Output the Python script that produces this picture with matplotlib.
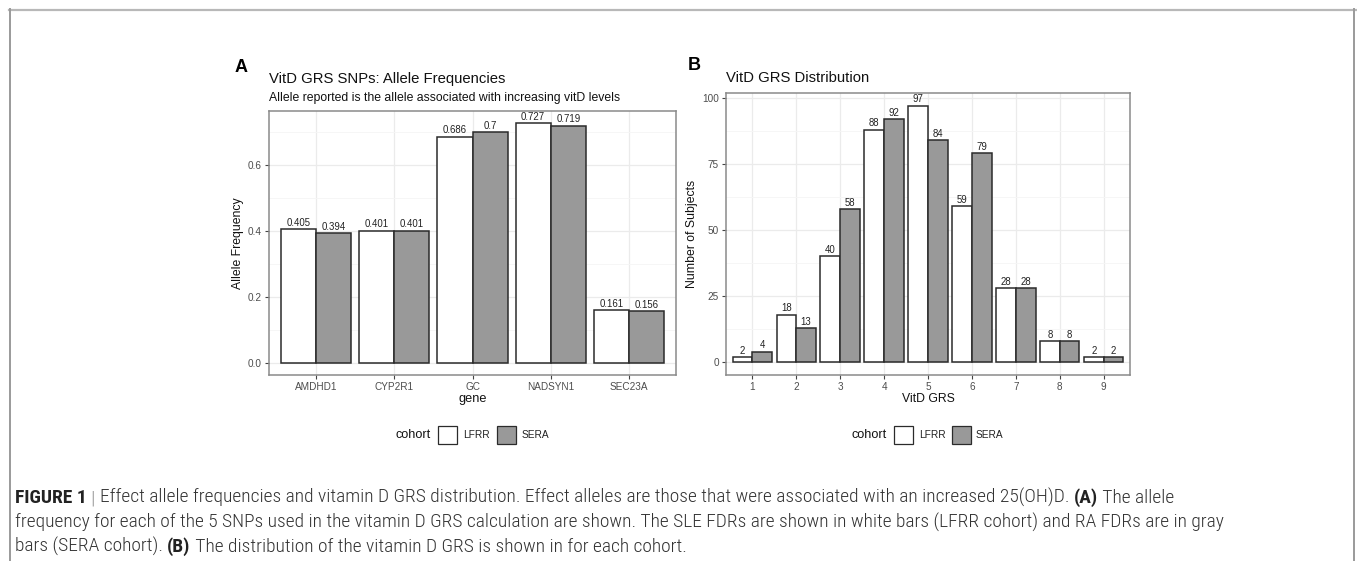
import matplotlib
matplotlib.use("Agg")
import matplotlib.pyplot as plt
import numpy as np
from matplotlib.patches import Rectangle
from matplotlib.lines import Line2D
from matplotlib import font_manager

plt.rcParams['font.family'] = ['Liberation Sans', 'DejaVu Sans']

# ---------------- data ----------------
genes = ["AMDHD1", "CYP2R1", "GC", "NADSYN1", "SEC23A"]
lfrr_freq = [0.405, 0.401, 0.686, 0.727, 0.161]
sera_freq = [0.394, 0.401, 0.7, 0.719, 0.156]
freq_labels_lfrr = ["0.405", "0.401", "0.686", "0.727", "0.161"]
freq_labels_sera = ["0.394", "0.401", "0.7", "0.719", "0.156"]

grs = [1, 2, 3, 4, 5, 6, 7, 8, 9]
lfrr_count = [2, 18, 40, 88, 97, 59, 28, 8, 2]
sera_count = [4, 13, 58, 92, 84, 79, 28, 8, 2]

cohorts = ["LFRR", "SERA"]
a_yticks = [0.0, 0.2, 0.4, 0.6]
b_yticks = [0, 25, 50, 75, 100]

WHITE = "#ffffff"
GREY = "#999999"
EDGE = "#2b2b2b"
TICKC = "#4d4d4d"
GRIDC = "#ebebeb"

W, H = 1357, 561
fig = plt.figure(figsize=(W / 100, H / 100), dpi=100)


def fx(px):
    return px / W


def fy(py):
    return 1 - py / H


def style_axes(ax, yticks, yminor):
    ax.set_facecolor("white")
    ax.set_yticks(yticks)
    ax.set_yticks(yminor, minor=True)
    ax.grid(True, which="major", color=GRIDC, lw=0.9, zorder=0)
    ax.grid(True, which="minor", axis="y", color="#f5f5f5", lw=0.6, zorder=0)
    ax.set_axisbelow(True)
    for s in ax.spines.values():
        s.set_color("#8a8a8a")
        s.set_linewidth(1.1)
    ax.tick_params(axis="both", which="major", length=3, width=0.8, color="#444444",
                   labelsize=7.2, labelcolor=TICKC, pad=2)
    ax.tick_params(axis="both", which="minor", length=0)


LBL = 6.9

# ---------------- panel A ----------------
axA = fig.add_axes([fx(269), fy(375), fx(676 - 269), (375 - 111) / H])
xA = np.arange(1, len(genes) + 1)
bw = 0.45
axA.bar(xA - bw / 2, lfrr_freq, width=bw, color=WHITE, edgecolor=EDGE, lw=1.1, zorder=3)
axA.bar(xA + bw / 2, sera_freq, width=bw, color=GREY, edgecolor=EDGE, lw=1.1, zorder=3)
for x, v, t in zip(xA - bw / 2, lfrr_freq, freq_labels_lfrr):
    axA.text(x, v + 0.004, t, ha="center", va="bottom", fontsize=LBL, color="#222222", zorder=4)
for x, v, t in zip(xA + bw / 2, sera_freq, freq_labels_sera):
    axA.text(x, v + 0.004, t, ha="center", va="bottom", fontsize=LBL, color="#222222", zorder=4)
axA.set_xlim(0.4, len(genes) + 0.6)
axA.set_ylim(-0.0364, 0.7634)
axA.set_xticks(xA)
axA.set_xticklabels(genes)
style_axes(axA, a_yticks, [0.1, 0.3, 0.5, 0.7])
axA.set_yticklabels(["0.0", "0.2", "0.4", "0.6"])
axA.set_xlabel("gene", fontsize=9.2, labelpad=1, color="#111111")
axA.set_ylabel("Allele Frequency", fontsize=8.8, labelpad=3, color="#111111")

fig.text(fx(235), fy(67), "A", fontsize=13, fontweight="bold", ha="left", va="center")
fig.text(fx(269), fy(79), "VitD GRS SNPs: Allele Frequencies", fontsize=10.7, ha="left", va="center", color="#111111")
fig.text(fx(269), fy(98), "Allele reported is the allele associated with increasing vitD levels",
         fontsize=8.8, ha="left", va="center", color="#111111")

# ---------------- panel B ----------------
axB = fig.add_axes([fx(726), fy(375), fx(1130 - 726), (375 - 93) / H])
xB = np.array(grs, dtype=float)
axB.bar(xB - bw / 2, lfrr_count, width=bw, color=WHITE, edgecolor=EDGE, lw=1.1, zorder=3)
axB.bar(xB + bw / 2, sera_count, width=bw, color=GREY, edgecolor=EDGE, lw=1.1, zorder=3)
for x, v in zip(xB - bw / 2, lfrr_count):
    axB.text(x, v + 0.5, str(v), ha="center", va="bottom", fontsize=LBL, color="#222222", zorder=4)
for x, v in zip(xB + bw / 2, sera_count):
    axB.text(x, v + 0.5, str(v), ha="center", va="bottom", fontsize=LBL, color="#222222", zorder=4)
axB.set_xlim(0.4, 9.6)
axB.set_ylim(-4.85, 101.85)
axB.set_xticks(grs)
style_axes(axB, b_yticks, [12.5, 37.5, 62.5, 87.5])
axB.set_xlabel("VitD GRS", fontsize=8.8, labelpad=1, color="#111111")
axB.set_ylabel("Number of Subjects", fontsize=8.8, labelpad=3, color="#111111")

fig.text(fx(688), fy(65), "B", fontsize=13, fontweight="bold", ha="left", va="center")
fig.text(fx(726), fy(78), "VitD GRS Distribution", fontsize=10.7, ha="left", va="center", color="#111111")


# ---------------- legends ----------------
def legend(cx_text, y, box1, lab1, box2, lab2):
    fig.text(fx(cx_text), fy(y), "cohort", fontsize=9.1, ha="right", va="center", color="#111111")
    for x0, fc, lx, lab in [(box1, WHITE, lab1, cohorts[0]), (box2, GREY, lab2, cohorts[1])]:
        fig.patches.append(Rectangle((fx(x0), fy(y + 9)), fx(19), 18 / H, transform=fig.transFigure,
                                     facecolor=fc, edgecolor=EDGE, lw=0.9))
        fig.text(fx(lx), fy(y), lab, fontsize=7.3, ha="left", va="center", color="#222222")


legend(431, 435, 438, 463, 497, 522)
legend(887, 435, 894, 919, 952, 976)

# ---------------- frame ----------------
fig.add_artist(Line2D([fx(9), fx(1357)], [fy(9.5), fy(9.5)], color="#b8b8b8", lw=1.6, transform=fig.transFigure))
fig.add_artist(Line2D([fx(9.5), fx(9.5)], [fy(9), 0], color="#9a9a9a", lw=1.4, transform=fig.transFigure))
fig.add_artist(Line2D([fx(1354), fx(1354)], [fy(9), 0], color="#9a9a9a", lw=1.4, transform=fig.transFigure))

# ---------------- caption ----------------
capfam = None
stretch = "normal"
for f in font_manager.fontManager.ttflist:
    if f.name in ("Liberation Sans Narrow", "Roboto Condensed", "Open Sans Condensed", "DejaVu Sans Condensed"):
        capfam = f.name
        break
if capfam is None:
    for f in font_manager.fontManager.ttflist:
        if f.name == "DejaVu Sans" and str(f.stretch) in ("condensed", "semi-condensed", "600"):
            capfam = "DejaVu Sans"
            stretch = "condensed"
            break
if capfam is None:
    capfam = "Liberation Sans"

renderer = fig.canvas.get_renderer()

line2 = "frequency for each of the 5 SNPs used in the vitamin D GRS calculation are shown. The SLE FDRs are shown in white bars (LFRR cohort) and RA FDRs are in gray"
probe = fig.text(0, 0, line2, fontsize=10, family=capfam, stretch=stretch, fontweight="light")
pw = probe.get_window_extent(renderer=renderer).width
probe.remove()
capsize = min(10 * 1322 / pw, 14.0)


def rich_line(x_px, y_px, segments):
    x = x_px
    for txt, bold, col in segments:
        t = fig.text(fx(x), fy(y_px), txt, fontsize=capsize, family=capfam, stretch=stretch,
                     fontweight="bold" if bold else "light", color=col, ha="left", va="baseline")
        bb = t.get_window_extent(renderer=renderer)
        x += bb.width


C = "#333333"
rich_line(15, 503, [("FIGURE 1 ", True, "#222222"), ("| ", False, "#9a9a9a"),
                    ("Effect allele frequencies and vitamin D GRS distribution. Effect alleles are those that were associated with an increased 25(OH)D. ", False, C),
                    ("(A)", True, "#222222"), (" The allele", False, C)])
rich_line(15, 528, [(line2, False, C)])
rich_line(15, 552, [("bars (SERA cohort). ", False, C), ("(B)", True, "#222222"),
                    (" The distribution of the vitamin D GRS is shown in for each cohort.", False, C)])

fig.savefig("out.png", dpi=100)
